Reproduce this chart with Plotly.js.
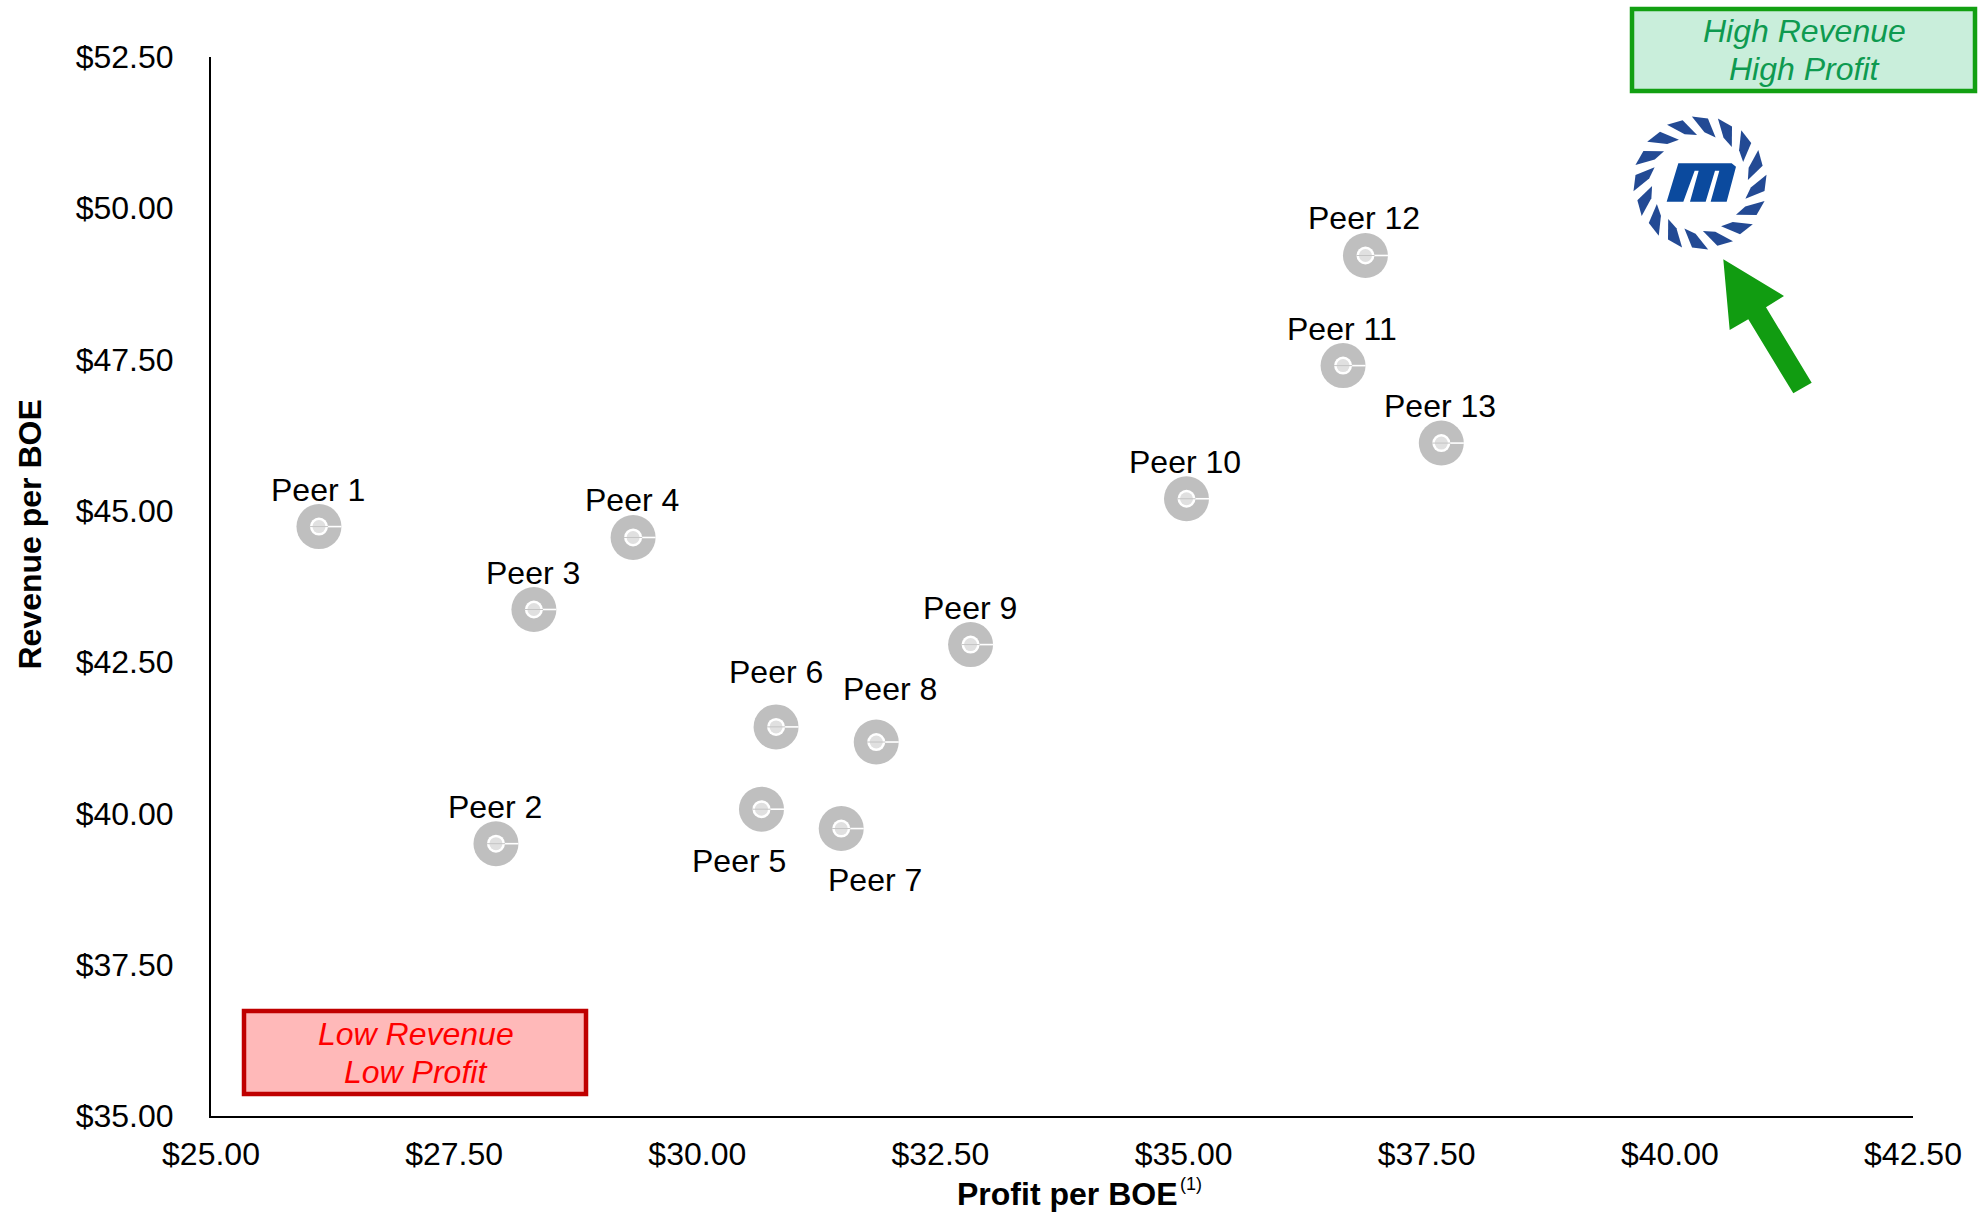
<!DOCTYPE html>
<html>
<head>
<meta charset="utf-8">
<script src="https://cdn.plot.ly/plotly-3.0.1.min.js"></script>
<style>html,body{margin:0;padding:0;background:#fff}</style>
</head>
<body>
<div id="chart" style="width:1988px;height:1212px"></div>
<script>
const peers = ["Peer 1","Peer 2","Peer 3","Peer 4","Peer 5","Peer 6","Peer 7","Peer 8","Peer 9","Peer 10","Peer 11","Peer 12","Peer 13"];
const profitPerBoe = [26.11,27.93,28.32,29.34,30.66,30.81,31.48,31.84,32.81,35.03,36.64,36.87,37.65];
const revenuePerBoe = [44.74,39.50,43.37,44.56,40.07,41.43,39.75,41.18,42.79,45.20,47.40,49.22,46.12];
const xTickVals = [25,27.5,30,32.5,35,37.5,40,42.5];
const yTickVals = [35,37.5,40,42.5,45,47.5,50,52.5];

const W=1988,H=1212,L=211,R=75,T=57,B=96;
const px=x=>(x-L)/(W-L-R), py=y=>1-(y-T)/(H-T-B);
const FONT='"Liberation Sans", Arial, sans-serif';
const poly=(pts)=>'M'+pts.map(p=>px(p[0]).toFixed(5)+','+py(p[1]).toFixed(5)).join(' L')+' Z';

function labelOffset(name){
  if(name==='Peer 5') return [-22,-52];
  if(name==='Peer 7') return [34,-51];
  if(name==='Peer 8') return [14,53];
  if(name==='Peer 6') return [0,55];
  return [-1,37];
}

const common={x:profitPerBoe,y:revenuePerBoe,mode:'markers',type:'scatter',hoverinfo:'skip',showlegend:false,cliponaxis:false};
const data=[
  Object.assign({},common,{name:'Peers',text:peers,marker:{size:45,color:'#BFBFBF',line:{width:0}}}),
  Object.assign({},common,{marker:{size:18,color:'#FFFFFF',line:{width:0}},
    error_x:{type:'constant',symmetric:false,value:0.232,valueminus:0,color:'#FFFFFF',thickness:1.6,width:0}}),
  Object.assign({},common,{marker:{size:13,color:'#E0E0E0',line:{width:0}}}),
  Object.assign({},common,{marker:{size:13,symbol:'line-ew',color:'#C4C4C4',line:{width:1,color:'#C4C4C4'}}})
];

const annotations=peers.map((p,i)=>{
  const o=labelOffset(p);
  return {x:profitPerBoe[i],y:revenuePerBoe[i],xref:'x',yref:'y',text:p,showarrow:false,
    xshift:o[0],yshift:o[1],xanchor:'center',yanchor:'middle',font:{family:FONT,size:32,color:'#000'}};
});
const note=(x,y,text,size,color,extra)=>Object.assign({xref:'paper',yref:'paper',x:px(x),y:py(y),xanchor:'center',yanchor:'middle',showarrow:false,text,font:{family:FONT,size,color}},extra||{});
annotations.push(
  note(1067,1194,'<b>Profit per BOE</b>',32,'#000'),
  note(1191,1184,'(1)',18,'#000'),
  note(29,534.5,'<b>Revenue per BOE</b>',32,'#000',{textangle:-90}),
  note(415.5,1033.5,'<i>Low Revenue</i>',32,'#FF0000'),
  note(415.5,1071.5,'<i>Low Profit</i>',32,'#FF0000'),
  note(1804,31.5,'<i>High Revenue</i>',32,'#0E9A50'),
  note(1804,69.5,'<i>High Profit</i>',32,'#0E9A50')
);

const shapes=[
  {type:'rect',xref:'paper',yref:'paper',x0:px(244),x1:px(586),y0:py(1011),y1:py(1094),fillcolor:'#FFB9B9',line:{color:'#C00000',width:4.5},layer:'below'},
  {type:'rect',xref:'paper',yref:'paper',x0:px(1632),x1:px(1975),y0:py(9),y1:py(91),fillcolor:'#C9EEDB',line:{color:'#12A012',width:4.5},layer:'below'},
  {type:'path',xref:'paper',yref:'paper',fillcolor:'#119C11',line:{width:0},
   path:poly([[1723.3,259.3],[1784,296],[1766,307.3],[1811.7,382.7],[1793.3,393.3],[1748.3,319.3],[1729.7,330]])}
];

// company logo badge
const cx=1700,cy=183;
const ringColor='#234A94',mColor='#0B4A9E';
const pol=(r,a)=>[cx+r*Math.sin(a*Math.PI/180),cy-r*Math.cos(a*Math.PI/180)];
for(let i=0;i<16;i++){
  const t=i*22.5+5;
  shapes.push({type:'path',xref:'paper',yref:'paper',fillcolor:ringColor,line:{width:0},
    path:poly([pol(67,t-12),pol(65,t+2),pol(48,t+14),pol(51,t)])});
}
const mz=(a,b)=>[1580+a/3,b/3];
shapes.push({type:'path',xref:'paper',yref:'paper',fillcolor:mColor,line:{width:0},
  path:poly([mz(295,490),mz(455,490),mz(468,500),mz(440,605),mz(392,605),mz(418,512),mz(405,512),mz(377,605),mz(330,605),mz(356,512),mz(344,512),mz(310,605),mz(260,605)])});

const layout={
  width:W,height:H,autosize:false,
  margin:{l:L,r:R,t:T,b:B,pad:0},
  paper_bgcolor:'#fff',plot_bgcolor:'#fff',
  showlegend:false,
  font:{family:FONT,size:32,color:'#000'},
  xaxis:{range:[25,42.5],tickmode:'array',tickvals:xTickVals,ticktext:xTickVals.map(v=>'$'+v.toFixed(2)),
    showgrid:false,zeroline:false,showline:true,linecolor:'#000',linewidth:2,
    ticks:'outside',ticklen:9,tickcolor:'rgba(0,0,0,0)',tickfont:{family:FONT,size:32,color:'#000'}},
  yaxis:{range:[35,52.5],tickmode:'array',tickvals:yTickVals,ticktext:yTickVals.map(v=>'$'+v.toFixed(2)),
    showgrid:false,zeroline:false,showline:true,linecolor:'#000',linewidth:2,
    ticks:'outside',ticklen:29,tickcolor:'rgba(0,0,0,0)',tickfont:{family:FONT,size:32,color:'#000'}},
  annotations,shapes
};
Plotly.newPlot('chart',data,layout,{displayModeBar:false,staticPlot:true});
</script>
</body>
</html>
